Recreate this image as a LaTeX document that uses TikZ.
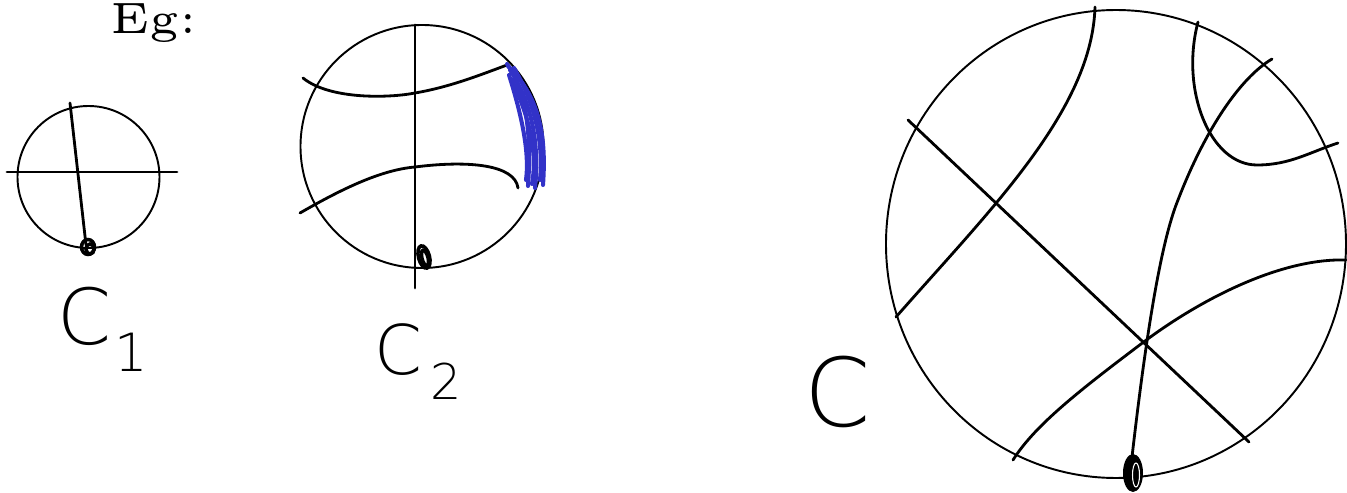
\documentclass[tikz,border=0pt]{standalone}
\usepackage{fontspec}
\newfontfamily\handfont{DejaVu Sans ExtraLight}
\newfontfamily\egfont{lmroman5-regular.otf}
\definecolor{scribble}{RGB}{50,50,200}

\begin{document}
\begin{tikzpicture}[
        x=0.02cm, y=-0.02cm,
        rim/.style={line width=1.1pt},
        chord/.style={line width=1.6pt, line cap=round},
        knot/.style={line width=2pt},
        scrib/.style={scribble, line width=2.3pt, line cap=round},
        hand/.style={inner sep=0pt, anchor=base west, font=\handfont}
    ]
    \useasboundingbox (0,0) rectangle (1347,493);

    \node[anchor=base west, inner sep=0pt, font=\egfont\fontsize{25}{28}\selectfont] (eg) at (110,34) {Eg:};

    % --- C_1: two chords ---
    \draw[rim] (88.5,177) circle [radius=71];
    \draw[chord] (7,172) -- (177,172);
    \draw[chord] (70,103) -- (86,245);
    \draw[knot] (88,247) ellipse [x radius=6.5, y radius=7.5];
    \draw[knot] (90,249) ellipse [x radius=4, y radius=5];
    \node[hand, font=\handfont\fontsize{44}{44}\selectfont] (lab1) at (57,345) {C};
    \node[hand, font=\handfont\fontsize{30}{30}\selectfont] (sub1) at (114,372) {1};

    % --- C_2: one chord and two arcs ---
    \draw[rim] (422,146.5) circle [radius=121.5];
    \draw[chord] (415,25) -- (415,288);
    \draw[chord] (303,78) .. controls (330,100) and (390,98) .. (415,93)
                          .. controls (450,87) and (480,75) .. (507,65);
    \draw[chord] (300,213) .. controls (340,190) and (380,170) .. (415,167)
                           .. controls (470,160) and (515,165) .. (518,188);
    \draw[knot, rotate around={15:(424,257)}] (424,257) ellipse [x radius=5.5, y radius=11.5];
    \draw[knot, rotate around={15:(425,258)}] (425,258) ellipse [x radius=3, y radius=8];
    % blue shading at the right end
    \draw[scrib] (507,64) .. controls (525,90) and (532,130) .. (528,186);
    \draw[scrib] (508,66) .. controls (537,95) and (547,130) .. (543,185);
    \draw[scrib] (510,70) .. controls (530,100) and (540,140) .. (535,188);
    \draw[scrib] (509,75) .. controls (520,110) and (530,150) .. (526,180);
    \draw[scrib] (512,80) .. controls (528,115) and (538,150) .. (532,184);
    \draw[scrib] (514,68) .. controls (533,100) and (544,140) .. (540,180);
    \node[hand, font=\handfont\fontsize{39}{39}\selectfont] (lab2) at (374,375) {C};
    \node[hand, font=\handfont\fontsize{28}{28}\selectfont] (sub2) at (430,400) {2};

    % --- C: the big one ---
    \draw[rim] (1116,244) ellipse [x radius=230, y radius=234];
    \draw[chord] (908,120) -- (1249,442);
    \draw[chord] (1095,7) .. controls (1092,110) and (990,210) .. (896,317);
    \draw[chord] (1272,59) .. controls (1240,78) and (1205,130) .. (1178,200)
                           .. controls (1165,232) and (1150,300) .. (1132,457);
    \draw[chord] (1198,22) .. controls (1180,90) and (1210,165) .. (1257,165)
                           .. controls (1290,165) and (1310,152) .. (1338,143);
    \draw[chord] (1346,260) .. controls (1280,258) and (1200,300) .. (1145,341)
                            .. controls (1080,390) and (1035,425) .. (1013,460);
    \fill (1133,473) ellipse [x radius=10, y radius=19];
    \draw[white, line width=0.6pt] (1136,475) ellipse [x radius=3.5, y radius=12];
    \node[hand, font=\handfont\fontsize{54}{54}\selectfont] (lab) at (804,427) {C};

\end{tikzpicture}
\end{document}
